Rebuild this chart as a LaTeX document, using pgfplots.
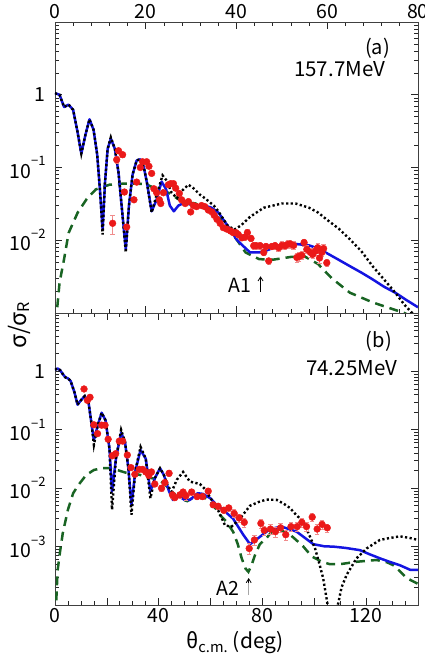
\documentclass[border=0pt]{standalone}
\usepackage{fontspec}
\setmainfont{Noto Sans CJK JP}
\usepackage{pgfplots}
\pgfplotsset{compat=1.18}
\usetikzlibrary{arrows.meta}
\definecolor{cblue}{RGB}{20,20,225}
\definecolor{cgreen}{RGB}{25,100,35}
\definecolor{cred}{RGB}{235,25,25}
\definecolor{cerr}{RGB}{240,140,140}
\newcommand{\tl}[1]{10\raisebox{0.62em}{\fontsize{13}{13}\selectfont −#1}}
\pgfplotsset{
  mypanel/.style={
    scale only axis, width=363pt, clip=true,
    tick align=inside,
    axis line style={black!75, line width=0.8pt},
    every tick/.style={black!85, line width=0.7pt},
    major tick length=7pt, minor tick length=4pt,
    tick label style={font=\fontsize{19.5}{21}\selectfont},
    yticklabel style={xshift=-6pt},
  },
  myblu/.style={cblue, line width=2.5pt, line join=round},
  myblk/.style={black, line width=2.4pt, dash pattern=on 2.2pt off 2.4pt},
  mygrn/.style={cgreen, line width=2.5pt, dash pattern=on 9pt off 6pt},
  mydat/.style={only marks, mark=*, mark size=3.4pt, cred,
    mark options={draw=cred, fill=cred},
    error bars/y dir=both, error bars/y explicit relative,
    error bars/error bar style={cerr, line width=0.8pt},
    error bars/error mark options={cerr, mark size=2.2pt, line width=0.8pt, rotate=90}},
}
\begin{document}
\begin{tikzpicture}
\useasboundingbox (-55pt,-346pt) rectangle (370pt,313pt);
% ---------------- (a) ----------------
\begin{semilogyaxis}[mypanel, at={(0pt,0pt)}, anchor=south west, height=291pt,
  xmin=0, xmax=80, ymin=1e-3, ymax=10,
  xticklabel pos=top,
  xtick={0,20,40,60,80}, xticklabels={0,20,40,60,80},
  minor xtick={4,8,12,16,24,28,32,36,44,48,52,56,64,68,72,76},
  ytick={1e-3,1e-2,1e-1,1,10}, yticklabels={,\tl{2},\tl{1},1,},
  minor ytick={2e-3,3e-3,4e-3,5e-3,6e-3,7e-3,8e-3,9e-3,
    2e-2,3e-2,4e-2,5e-2,6e-2,7e-2,8e-2,9e-2,
    0.2,0.3,0.4,0.5,0.6,0.7,0.8,0.9,2,3,4,5,6,7,8,9},
]
\addplot[mygrn] table {
0.5 0.0012
1 0.0026
2 0.0055
3 0.0126
5 0.024
7 0.037
9 0.050
12 0.058
15 0.060
18 0.060
20 0.059
22 0.052
25 0.045
28 0.034
31 0.032
34 0.026
37 0.018
40 0.0103
42 0.0068
45 0.0055
48 0.0054
52 0.0059
55 0.0060
58 0.0047
61 0.0030
65 0.0019
70 0.0014
75 0.0011
77 0.0010
80 0.0008
};
\addplot[myblu] table {
0 1.05
1 1.0
2 0.68
3 0.73
4 0.62
5 0.30
5.8 0.155
6.7 0.28
7.6 0.46
8.5 0.33
9.3 0.15
9.9 0.05
10.5 0.014
11.0 0.06
11.6 0.18
12.3 0.25
13.2 0.18
14.0 0.085
14.8 0.025
15.6 0.0075
16.3 0.03
17.1 0.08
18.0 0.125
18.8 0.13
19.6 0.10
20.3 0.06
21.3 0.025
22.3 0.035
23.5 0.064
24.5 0.050
25.3 0.030
26.2 0.025
27.2 0.030
28.6 0.033
29.8 0.031
31 0.029
33 0.030
34.5 0.028
36 0.024
38 0.016
40 0.0103
41.5 0.0083
43 0.0068
45 0.0068
46.5 0.0072
48 0.0078
50 0.0083
53 0.0089
56 0.0085
58 0.0077
60 0.0066
62.5 0.0054
65 0.0044
67.5 0.0036
70 0.0029
72.5 0.0023
75 0.0019
77.5 0.0015
80 0.0012
};
\addplot[myblk] table {
0 1.05
1 1.0
2 0.68
3 0.73
4 0.62
5 0.30
5.8 0.155
6.7 0.28
7.6 0.46
8.5 0.33
9.3 0.15
9.9 0.05
10.5 0.012
11.0 0.06
11.6 0.18
12.3 0.26
13.2 0.18
14.0 0.085
14.8 0.025
15.6 0.0068
16.3 0.03
17.1 0.08
18.0 0.125
18.8 0.13
19.6 0.10
20.3 0.06
21.3 0.024
22.3 0.040
23.7 0.078
24.7 0.065
25.7 0.045
26.9 0.038
28.0 0.048
29.4 0.058
30.5 0.052
32 0.042
33 0.038
35 0.030
36 0.025
37 0.020
38 0.016
39.5 0.014
41 0.016
43 0.021
46 0.028
50 0.032
53 0.032
56 0.028
58 0.024
60 0.019
62.5 0.0145
65 0.0103
67.5 0.0071
70 0.0044
72.5 0.0029
75 0.0019
77 0.0013
78.7 0.0010
80 0.0007
};
\addplot[mydat] table[y error index=2] {
12.7 0.0171 0.30
13.6 0.128 0.12
14.0 0.17 0.08
14.9 0.15 0.08
15.3 0.046 0.08
15.8 0.0152 0.08
17.4 0.036 0.06
18.0 0.063 0.06
18.8 0.10 0.06
19.3 0.12 0.06
20.2 0.12 0.06
20.7 0.104 0.06
21.3 0.083 0.06
21.8 0.051 0.06
22.4 0.045 0.06
23.0 0.036 0.06
23.3 0.032 0.06
23.9 0.045 0.06
25.0 0.058 0.06
25.5 0.060 0.06
26.1 0.060 0.06
26.6 0.052 0.06
27.4 0.044 0.06
27.9 0.036 0.06
28.7 0.032 0.06
29.4 0.034 0.06
29.9 0.0245 0.06
30.5 0.030 0.06
31.2 0.029 0.06
32.3 0.030 0.06
33.0 0.029 0.06
33.8 0.026 0.06
34.6 0.0245 0.06
35.1 0.022 0.06
35.7 0.0194 0.06
36.4 0.0171 0.06
37.1 0.0149 0.06
37.9 0.0142 0.06
38.7 0.0134 0.06
39.3 0.0127 0.06
39.9 0.0127 0.08
40.4 0.0120 0.08
41.2 0.0108 0.08
41.9 0.0111 0.10
42.4 0.0127 0.10
43.2 0.0106 0.10
43.8 0.0084 0.10
44.3 0.0084 0.10
45.2 0.0084 0.10
46.0 0.0068 0.10
46.5 0.0082 0.10
47.1 0.0052 0.10
47.8 0.0082 0.10
48.5 0.0084 0.10
49.3 0.0079 0.10
50.0 0.0085 0.12
50.7 0.0084 0.12
51.3 0.0088 0.12
51.8 0.0089 0.12
52.6 0.0085 0.12
53.3 0.0058 0.15
53.8 0.0060 0.15
54.4 0.0062 0.12
54.9 0.0093 0.12
55.5 0.0075 0.12
56.3 0.0068 0.15
56.8 0.0064 0.12
57.4 0.0071 0.12
57.9 0.0079 0.15
58.3 0.0057 0.15
58.8 0.0068 0.12
59.2 0.0077 0.15
59.9 0.0049 0.12
};
\node[font=\fontsize{19.5}{21}\selectfont] at (axis cs:40.8,0.0024) {A1};
\draw[black, line width=0.8pt, -{Straight Barb[length=4pt,width=5pt]}] (axis cs:45.3,0.00195) -- (axis cs:45.3,0.0032);
\end{semilogyaxis}
% ---------------- (b) ----------------
\begin{semilogyaxis}[mypanel, at={(0pt,-292pt)}, anchor=south west, height=292pt,
  xmin=0, xmax=140, ymin=1e-4, ymax=10,
  xtick={0,20,40,60,80,100,120,140}, xticklabels={0,,40,,80,,120,},
  minor xtick={5,10,15,25,30,35,45,50,55,65,70,75,85,90,95,105,110,115,125,130,135},
  ytick={1e-4,1e-3,1e-2,1e-1,1,10}, yticklabels={,\tl{3},\tl{2},\tl{1},1,},
  minor ytick={2e-4,3e-4,4e-4,5e-4,6e-4,7e-4,8e-4,9e-4,
    2e-3,3e-3,4e-3,5e-3,6e-3,7e-3,8e-3,9e-3,
    2e-2,3e-2,4e-2,5e-2,6e-2,7e-2,8e-2,9e-2,
    0.2,0.3,0.4,0.5,0.6,0.7,0.8,0.9,2,3,4,5,6,7,8,9},
]
\addplot[mygrn] table {
0.5 0.00012
1 0.00039
2 0.00085
3 0.0017
5 0.0043
7 0.0082
9 0.0113
12 0.0168
15 0.0205
18 0.022
21 0.022
24 0.0205
27 0.0186
30 0.018
33 0.0168
36 0.0152
39 0.0144
42 0.0121
45 0.0088
48 0.0067
51 0.0060
54 0.0072
57 0.0072
60 0.0060
63.6 0.0035
66 0.0027
68.7 0.0018
70.5 0.0011
72 0.00063
73.5 0.00042
74.6 0.00037
75.8 0.00048
77.1 0.00071
79 0.0011
81.6 0.0014
84 0.0019
86.1 0.0020
90 0.0017
93 0.0013
95.8 0.0010
99 0.00068
102.9 0.00055
106 0.00050
109.9 0.00050
116.3 0.00055
124 0.00059
128 0.00054
130.5 0.00048
133 0.00038
135.6 0.00029
140 0.00023
};
\addplot[myblu] table {
0 1.07
1 1.12
2 1.05
3 0.90
4 0.79
5 0.76
6 0.69
7.5 0.44
8.7 0.27
10 0.32
11.5 0.38
13 0.28
14 0.135
15 0.066
16.5 0.12
18 0.196
19.5 0.145
21 0.048
22 0.0088
23.5 0.032
25.5 0.089
27 0.062
28.3 0.022
29.5 0.0052
31 0.020
33 0.045
35 0.032
36.8 0.0088
38.5 0.0148
40.5 0.022
42 0.0168
44 0.0088
45.5 0.0063
48 0.0072
50 0.0063
52 0.0063
55 0.0082
57 0.0080
60 0.0067
62.4 0.0051
65 0.0042
68.7 0.0030
72.6 0.0016
75.2 0.0011
78.4 0.0014
82.9 0.0020
87.4 0.0022
93.2 0.0018
99.6 0.0011
104 0.00101
107.3 0.0010
112 0.00095
117.6 0.00087
121 0.00075
125.3 0.00063
129 0.00055
133 0.00048
137 0.00040
140 0.00040
};
\addplot[myblk] table {
0 1.07
1 1.12
2 1.05
3 0.90
4 0.79
5 0.76
6 0.69
7.5 0.44
8.7 0.27
10 0.32
11.5 0.38
13 0.28
14 0.135
15 0.055
16.5 0.12
18 0.196
19.5 0.145
21 0.048
22 0.0043
23.5 0.032
25.5 0.10
27 0.062
28.3 0.022
29.5 0.0035
31 0.020
33 0.051
35 0.032
36.8 0.0067
38.5 0.0148
40.5 0.022
42 0.0168
43.5 0.011
45 0.0087
47 0.014
49.4 0.019
52 0.013
55.9 0.0118
58 0.0095
60 0.0067
62.3 0.0048
65.6 0.0023
68.1 0.0022
71.3 0.0030
75.2 0.0050
78.5 0.0058
81.6 0.0064
85.5 0.0063
88 0.0055
90.6 0.0046
93 0.0035
95.7 0.0027
98 0.0016
100.3 0.00093
102 0.00050
103.4 0.00029
104.5 0.00015
105.5 0.00008
108.5 0.00008
109.3 0.00011
110.5 0.00020
112.5 0.00033
116.3 0.00063
120.2 0.00093
125.3 0.0013
129 0.0014
133 0.0015
137 0.0014
140 0.0013
};
\addplot[mydat] table[y error index=2] {
11.2 0.50 0.06
12.5 0.32 0.06
13.5 0.36 0.06
15.0 0.122 0.06
16.4 0.086 0.06
18.0 0.12 0.06
19.3 0.12 0.06
20.5 0.069 0.06
22.1 0.036 0.06
23.4 0.039 0.06
24.8 0.064 0.06
26.1 0.064 0.06
27.9 0.037 0.06
29.3 0.0225 0.06
30.8 0.0173 0.06
32.5 0.021 0.06
33.8 0.021 0.06
35.0 0.019 0.06
36.2 0.0165 0.06
37.2 0.019 0.08
38.5 0.0118 0.08
41.1 0.0100 0.12
42.4 0.0125 0.10
44.0 0.018 0.10
45.3 0.0077 0.12
46.2 0.0069 0.12
48.2 0.0077 0.12
49.4 0.0086 0.12
50.5 0.0074 0.15
52.7 0.0086 0.12
54.8 0.0072 0.10
56.9 0.0072 0.10
59.1 0.0089 0.10
61.0 0.0052 0.10
62.9 0.0049 0.10
65.1 0.0042 0.12
67.0 0.0046 0.12
69.1 0.0037 0.15
71.0 0.0031 0.15
73.0 0.0026 0.18
74.9 0.00093 0.20
76.9 0.0013 0.18
79.4 0.0025 0.18
80.7 0.0019 0.18
83.1 0.0020 0.20
85.0 0.0018 0.20
87.0 0.0021 0.18
89.0 0.0016 0.20
91.0 0.0022 0.18
93.4 0.0022 0.18
95.2 0.0026 0.18
97.0 0.0022 0.18
99.2 0.0032 0.15
101.1 0.0020 0.18
103.0 0.0024 0.18
105.0 0.0021 0.15
};
\node[font=\fontsize{19.5}{21}\selectfont] at (axis cs:66.7,0.000194) {A2};
\draw[black!35, line width=0.9pt] (axis cs:74.7,0.000147) -- (axis cs:74.7,0.00027);
\draw[black, line width=0.8pt, -{Straight Barb[length=4pt,width=5pt]}] (axis cs:74.7,0.00024) -- (axis cs:74.7,0.00029);
\end{semilogyaxis}
% texts
\node[anchor=east, inner sep=0pt, font=\fontsize{20}{22}\selectfont] at (335pt,265pt) {(a)};
\node[anchor=east, inner sep=0pt, font=\fontsize{20.5}{22}\selectfont] at (330pt,244pt) {157.7MeV};
\node[anchor=east, inner sep=0pt, font=\fontsize{20}{22}\selectfont] at (337pt,-28pt) {(b)};
\node[anchor=east, inner sep=0pt, font=\fontsize{20.5}{22}\selectfont] at (342pt,-55pt) {74.25MeV};
\node[rotate=90, font=\fontsize{23}{25}\selectfont] at (-36pt,-12pt) {σ/σ\textsubscript{R}};
\node[font=\fontsize{21}{23}\selectfont] at (180pt,-330pt) {θ\textsubscript{c.m.} (deg)};
\end{tikzpicture}
\end{document}
